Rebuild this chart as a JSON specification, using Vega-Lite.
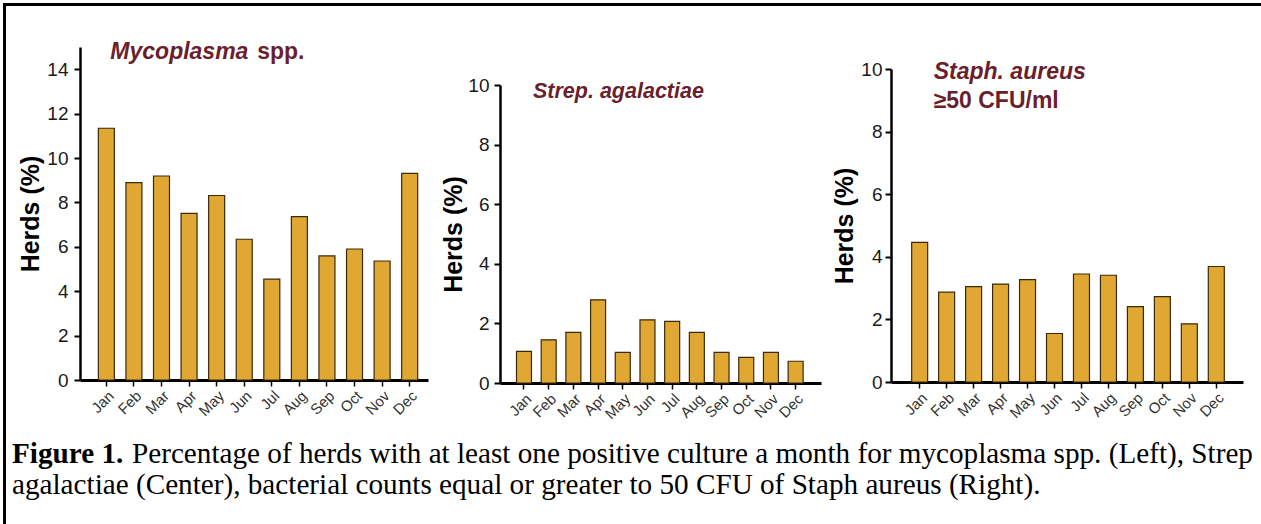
{
  "$schema": "https://vega.github.io/schema/vega-lite/v6.json",
  "padding": {"left": 3, "top": 3, "right": 0, "bottom": 0},
  "background": "white",
  "datasets": {
    "myco": [
      {"month": "Jan", "value": 11.34}, {"month": "Feb", "value": 8.89}, {"month": "Mar", "value": 9.19},
      {"month": "Apr", "value": 7.51}, {"month": "May", "value": 8.31}, {"month": "Jun", "value": 6.34},
      {"month": "Jul", "value": 4.54}, {"month": "Aug", "value": 7.36}, {"month": "Sep", "value": 5.59},
      {"month": "Oct", "value": 5.9}, {"month": "Nov", "value": 5.36}, {"month": "Dec", "value": 9.31}
    ],
    "strep": [
      {"month": "Jan", "value": 1.06}, {"month": "Feb", "value": 1.45}, {"month": "Mar", "value": 1.7},
      {"month": "Apr", "value": 2.79}, {"month": "May", "value": 1.03}, {"month": "Jun", "value": 2.12},
      {"month": "Jul", "value": 2.07}, {"month": "Aug", "value": 1.7}, {"month": "Sep", "value": 1.03},
      {"month": "Oct", "value": 0.86}, {"month": "Nov", "value": 1.03}, {"month": "Dec", "value": 0.73}
    ],
    "staph": [
      {"month": "Jan", "value": 4.46}, {"month": "Feb", "value": 2.87}, {"month": "Mar", "value": 3.05},
      {"month": "Apr", "value": 3.13}, {"month": "May", "value": 3.27}, {"month": "Jun", "value": 1.55},
      {"month": "Jul", "value": 3.45}, {"month": "Aug", "value": 3.41}, {"month": "Sep", "value": 2.41},
      {"month": "Oct", "value": 2.73}, {"month": "Nov", "value": 1.86}, {"month": "Dec", "value": 3.69}
    ]
  },
  "spacing": -3,
  "vconcat": [
    {"width": 1256, "height": 1, "view": {"fill": "black", "stroke": "black", "strokeWidth": 2}, "data": {"values": []}, "mark": "rule", "encoding": {}},
    {
      "spacing": 6,
      "hconcat": [
        {"width": 1, "height": 519, "view": {"fill": "black", "stroke": "black", "strokeWidth": 2}, "data": {"values": []}, "mark": "rule", "encoding": {}},
        {
          "spacing": 17,
          "vconcat": [
            {
              "spacing": 11,
              "hconcat": [
                {
                  "spacing": 13,
                  "hconcat": [
                    {
                      "spacing": 5,
                      "hconcat": [
                        {"width": 1, "height": 1, "data": {"values": []}, "mark": "rule", "encoding": {}},
                        {
                          "spacing": 0,
                          "vconcat": [
                            {"width": 1, "height": 35, "data": {"values": []}, "mark": "rule", "encoding": {}},
                            {
                              "width": 348, "height": 333,
                              "data": {"name": "myco"},
                              "layer": [
                                {
                                  "mark": {"type": "bar", "fill": "#e0a732", "stroke": "#3a2a0a", "strokeWidth": 1.2},
                                  "encoding": {
                                    "x": {"field": "month", "type": "ordinal",
                                      "scale": {"domain": ["Jan","Feb","Mar","Apr","May","Jun","Jul","Aug","Sep","Oct","Nov","Dec"], "paddingInner": 0.42, "paddingOuter": 0.52, "align": 0.64},
                                      "axis": {"title": null}},
                                    "y": {"field": "value", "type": "quantitative",
                                      "scale": {"domain": [0, 15], "nice": false},
                                      "axis": {"title": "Herds (%)", "values": [0,2,4,6,8,10,12,14], "titlePadding": 3, "labelPadding": 6}}
                                  }
                                },
                                {
                                  "data": {"values": [{"label": "Mycoplasma"}]},
                                  "mark": {"type": "text", "align": "left", "baseline": "alphabetic", "dx": 4, "fontSize": 23, "fontStyle": "italic", "fontWeight": "bold", "color": "#6b1f2c"},
                                  "encoding": {
                                    "x": {"datum": "Jan", "type": "ordinal"},
                                    "y": {"datum": 14.44, "type": "quantitative"},
                                    "text": {"field": "label"}
                                  }
                                },
                                {
                                  "data": {"values": [{"label": "spp."}]},
                                  "mark": {"type": "text", "align": "left", "baseline": "alphabetic", "dx": 13, "fontSize": 23, "fontWeight": "bold", "color": "#6b1f2c"},
                                  "encoding": {
                                    "x": {"datum": "Jun", "type": "ordinal"},
                                    "y": {"datum": 14.44, "type": "quantitative"},
                                    "text": {"field": "label"}
                                  }
                                }
                              ]
                            }
                          ]
                        }
                      ]
                    },
                    {
                      "spacing": 0,
                      "vconcat": [
                        {"width": 1, "height": 70, "data": {"values": []}, "mark": "rule", "encoding": {}},
                        {
                          "width": 321, "height": 298,
                          "data": {"name": "strep"},
                          "layer": [
                            {
                              "mark": {"type": "bar", "fill": "#e0a732", "stroke": "#3a2a0a", "strokeWidth": 1.2},
                              "encoding": {
                                "x": {"field": "month", "type": "ordinal",
                                  "scale": {"domain": ["Jan","Feb","Mar","Apr","May","Jun","Jul","Aug","Sep","Oct","Nov","Dec"], "paddingInner": 0.393, "paddingOuter": 0.696, "align": 0.48},
                                  "axis": {"title": null}},
                                "y": {"field": "value", "type": "quantitative",
                                  "scale": {"domain": [0, 10], "nice": false},
                                  "axis": {"title": "Herds (%)", "values": [0,2,4,6,8,10], "titlePadding": 1, "labelPadding": 5}}
                              }
                            },
                            {
                              "data": {"values": [{"label": "Strep. agalactiae"}]},
                              "mark": {"type": "text", "align": "left", "baseline": "alphabetic", "dx": 9, "fontSize": 21.5, "fontStyle": "italic", "fontWeight": "bold", "color": "#6b1f2c"},
                              "encoding": {
                                "x": {"datum": "Jan", "type": "ordinal"},
                                "y": {"datum": 9.57, "type": "quantitative"},
                                "text": {"field": "label"}
                              }
                            }
                          ]
                        }
                      ]
                    }
                  ]
                },
                {
                  "spacing": 0,
                  "vconcat": [
                    {"width": 1, "height": 54, "data": {"values": []}, "mark": "rule", "encoding": {}},
                    {
                      "width": 352, "height": 313,
                      "data": {"name": "staph"},
                      "layer": [
                        {
                          "mark": {"type": "bar", "fill": "#e0a732", "stroke": "#3a2a0a", "strokeWidth": 1.2},
                          "encoding": {
                            "x": {"field": "month", "type": "ordinal",
                              "scale": {"domain": ["Jan","Feb","Mar","Apr","May","Jun","Jul","Aug","Sep","Oct","Nov","Dec"], "paddingInner": 0.407, "paddingOuter": 0.73, "align": 0.525},
                              "axis": {"title": null}},
                            "y": {"field": "value", "type": "quantitative",
                              "scale": {"domain": [0, 10], "nice": false},
                              "axis": {"title": "Herds (%)", "values": [0,2,4,6,8,10], "titlePadding": 3, "labelPadding": 3}}
                          }
                        },
                        {
                          "data": {"values": [{"label": "Staph. aureus"}]},
                          "mark": {"type": "text", "align": "left", "baseline": "alphabetic", "dx": 14, "fontSize": 23, "fontStyle": "italic", "fontWeight": "bold", "color": "#6b1f2c"},
                          "encoding": {
                            "x": {"datum": "Jan", "type": "ordinal"},
                            "y": {"datum": 9.67, "type": "quantitative"},
                            "text": {"field": "label"}
                          }
                        },
                        {
                          "data": {"values": [{"label": "≥50 CFU/ml"}]},
                          "mark": {"type": "text", "align": "left", "baseline": "alphabetic", "dx": 14, "fontSize": 23, "fontWeight": "bold", "color": "#6b1f2c"},
                          "encoding": {
                            "x": {"datum": "Jan", "type": "ordinal"},
                            "y": {"datum": 8.75, "type": "quantitative"},
                            "text": {"field": "label"}
                          }
                        }
                      ]
                    }
                  ]
                }
              ]
            },
            {
              "width": 1241, "height": 62,
              "layer": [
                {
                  "data": {"values": [{"label": "Figure 1.", "line": 1}]},
                  "mark": {"type": "text", "align": "left", "baseline": "alphabetic", "font": "Liberation Serif", "fontSize": 29.2, "fontWeight": "bold", "color": "black"},
                  "encoding": {
                    "x": {"datum": 0, "type": "quantitative", "scale": {"domain": [0, 1]}, "axis": null},
                    "y": {"field": "line", "type": "ordinal", "scale": {"domain": [1, 2], "paddingInner": 0, "paddingOuter": 0}, "axis": null},
                    "text": {"field": "label"}
                  }
                },
                {
                  "data": {"values": [{"label": "Percentage of herds with at least one positive culture a month for mycoplasma spp. (Left), Strep", "line": 1}]},
                  "mark": {"type": "text", "align": "left", "baseline": "alphabetic", "dx": 120, "font": "Liberation Serif", "fontSize": 29.2, "color": "black"},
                  "encoding": {
                    "x": {"datum": 0, "type": "quantitative"},
                    "y": {"field": "line", "type": "ordinal"},
                    "text": {"field": "label"}
                  }
                },
                {
                  "data": {"values": [{"label": "agalactiae (Center), bacterial counts equal or greater to 50 CFU of Staph aureus (Right).", "line": 2}]},
                  "mark": {"type": "text", "align": "left", "baseline": "alphabetic", "font": "Liberation Serif", "fontSize": 29.2, "color": "black"},
                  "encoding": {
                    "x": {"datum": 0, "type": "quantitative"},
                    "y": {"field": "line", "type": "ordinal"},
                    "text": {"field": "label"}
                  }
                }
              ]
            }
          ]
        }
      ]
    }
  ],
  "config": {
    "view": {"stroke": null},
    "font": "Liberation Sans",
    "axis": {"domainColor": "black", "tickColor": "black", "labelFont": "Liberation Sans", "titleFont": "Liberation Sans", "grid": false},
    "axisY": {"domainWidth": 2.5, "tickWidth": 2, "tickSize": 6, "labelFontSize": 19, "labelColor": "#1a1a1a", "labelFlush": false, "titleFontSize": 25, "titleFontWeight": "bold", "titleColor": "black"},
    "axisX": {"domainWidth": 3, "tickWidth": 1.5, "tickSize": 6, "labelFontSize": 15, "labelColor": "#333", "labelAngle": -45, "labelPadding": 2, "labelOverlap": false}
  }
}
